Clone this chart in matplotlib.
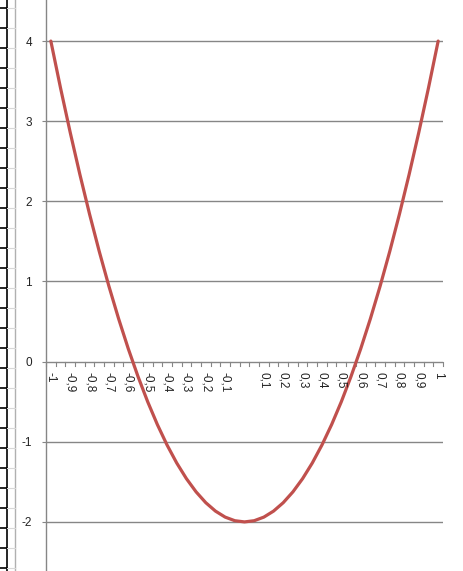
import matplotlib.pyplot as plt
from matplotlib.lines import Line2D

# category labels (Excel-like comma decimals); the centre category is blank
x_values = [-1.0, -0.95, -0.9, -0.85, -0.8, -0.75, -0.7, -0.65, -0.6, -0.55, -0.5,
            -0.45, -0.4, -0.35, -0.3, -0.25, -0.2, -0.15, -0.1, -0.05, 0.0,
            0.05, 0.1, 0.15, 0.2, 0.25, 0.3, 0.35, 0.4, 0.45, 0.5,
            0.55, 0.6, 0.65, 0.7, 0.75, 0.8, 0.85, 0.9, 0.95, 1.0]
y_values = [4.0, 3.415, 2.86, 2.335, 1.84, 1.375, 0.94, 0.535, 0.16, -0.185, -0.5,
            -0.785, -1.04, -1.265, -1.46, -1.625, -1.76, -1.865, -1.94, -1.985, -2.0,
            -1.985, -1.94, -1.865, -1.76, -1.625, -1.46, -1.265, -1.04, -0.785, -0.5,
            -0.185, 0.16, 0.535, 0.94, 1.375, 1.84, 2.335, 2.86, 3.415, 4.0]
y_ticks = [-2, -1, 0, 1, 2, 3, 4]

W, H = 464, 571
fig = plt.figure(figsize=(W / 100, H / 100), dpi=100, facecolor='white')
plt.rcParams['font.family'] = ['Liberation Sans', 'DejaVu Sans']

ax_left, ax_right = 46, 443
ax = fig.add_axes([ax_left / W, 0, (ax_right - ax_left) / W, 1])
ax.set_facecolor('white')

n = len(x_values)
idx = list(range(n))
ax.set_xlim(-0.5, n - 0.5)
y_top = 4 + 41 / 80
y_bot = -2 - (H - 522) / 80
ax.set_ylim(y_bot, y_top)

grid_col = '#868686'
for yt in y_ticks:
    ax.axhline(yt, color=grid_col, lw=1.0, zorder=1)

ax.plot(idx, y_values, color='#C0504D', lw=2.3, solid_joinstyle='round',
        solid_capstyle='round', zorder=3)

for s in ['top', 'right', 'bottom']:
    ax.spines[s].set_visible(False)
ax.spines['left'].set_color(grid_col)
ax.spines['left'].set_linewidth(1.0)

ax.set_yticks(y_ticks)
ax.set_yticklabels([str(v) for v in y_ticks])
ax.tick_params(axis='y', length=3, width=0.8, color=grid_col, pad=7,
               labelsize=8.5, labelcolor='#222222')

# category axis drawn at y = 0
ax.set_xticks([])
for i in range(n + 1):
    ax.plot([i - 0.5, i - 0.5], [0, -4 / 80], color=grid_col, lw=0.8,
            clip_on=False, zorder=2)
for i, xv in enumerate(x_values):
    if i % 2 == 0 and abs(xv) > 1e-9:
        lab = f"{xv:g}".replace('.', ',')
        ax.text(i, -10 / 80, lab, rotation=-90, ha='center', va='top',
                fontsize=8.5, color='#222222', zorder=4)

# spreadsheet margin on the left edge
fig.add_artist(Line2D([7 / W, 7 / W], [0, 1], color='black', lw=1.2))
fig.add_artist(Line2D([15 / W, 15 / W], [0, 1], color='#B0B0B0', lw=1.0))
for yy in range(8, H, 20):
    fy = 1 - yy / H
    fig.add_artist(Line2D([0, 7 / W], [fy, fy], color='black', lw=1.2))
    fig.add_artist(Line2D([7 / W, 15 / W], [fy, fy], color='#D8D8D8', lw=0.8))

fig.savefig('out.png', dpi=100, facecolor='white')
